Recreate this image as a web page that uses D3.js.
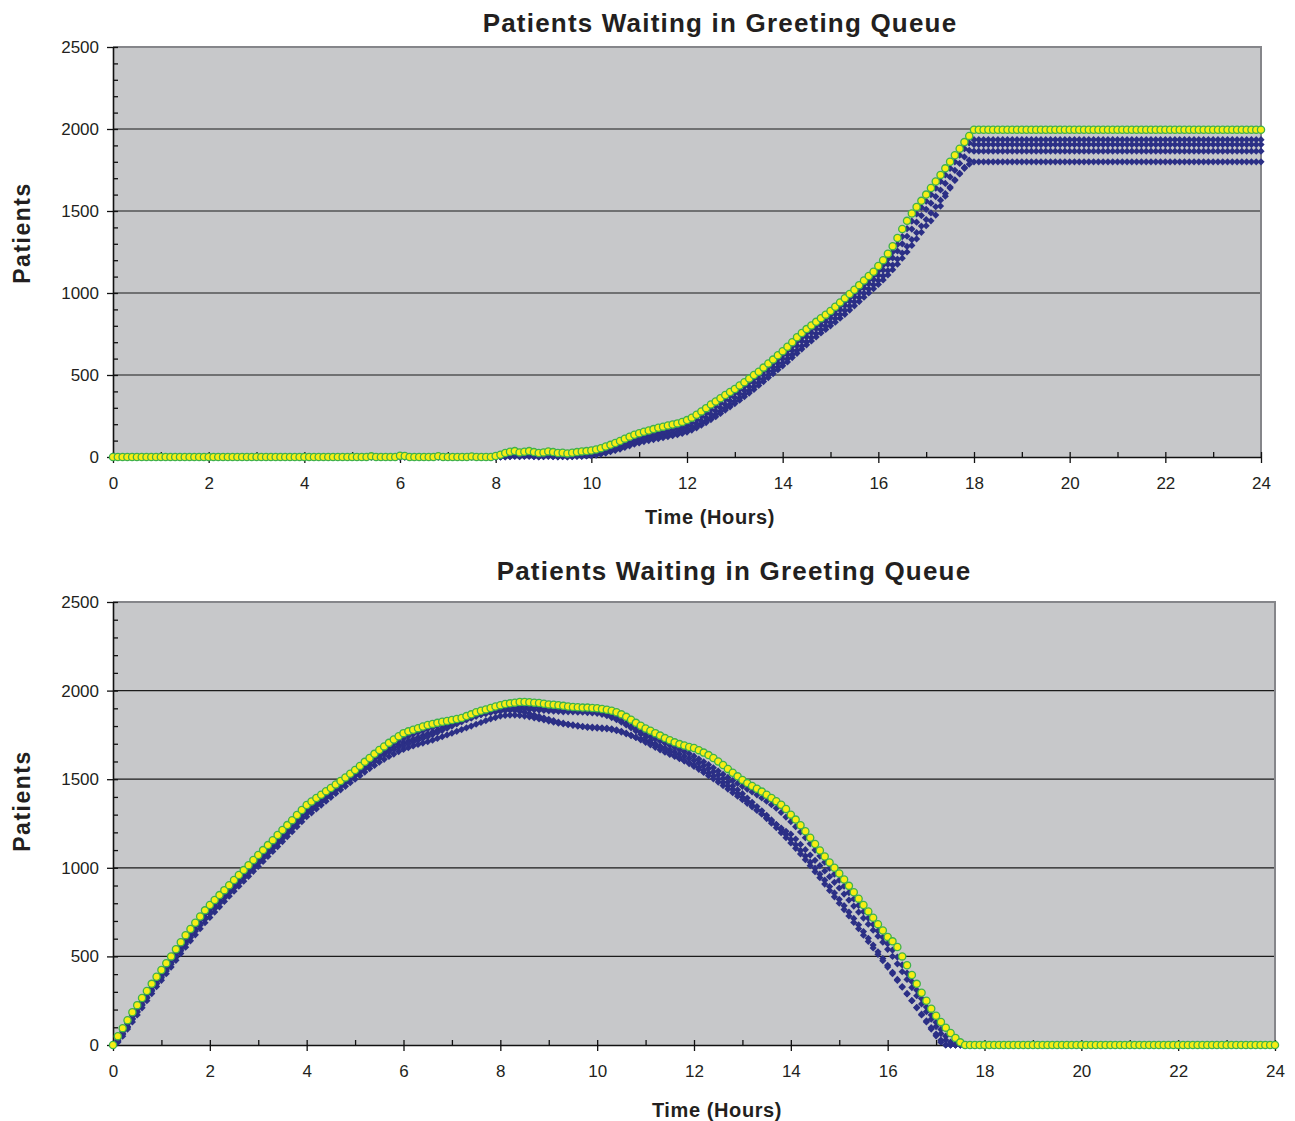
<!DOCTYPE html>
<html>
<head>
<meta charset="utf-8">
<script src="https://cdn.jsdelivr.net/npm/d3@7"></script>
<style>
  body { margin: 0; background: #fff; }
  svg { display: block; font-family: "Liberation Sans", Arial, sans-serif; }
</style>
</head>
<body>
<svg id="chart" width="1295" height="1121"></svg>
<script>
// sample spacing of every series, in hours (value i sits at i * stepHours)
const stepHours = 0.1;
const xTicks = [0, 2, 4, 6, 8, 10, 12, 14, 16, 18, 20, 22, 24];
const yTicks = [0, 500, 1000, 1500, 2000, 2500];
const chartTitle = "Patients Waiting in Greeting Queue";
const xTitle = "Time (Hours)";
const yTitle = "Patients";

// top chart
const topYellow = [
  0,0,0,0,0,0,0,0,0,0,
  0,0,0,0,0,0,0,0,0,0,
  0,0,0,0,0,0,0,0,0,0,
  0,0,0,0,0,0,0,0,0,0,
  0,0,0,0,0,0,0,0,0,0,
  0,0,0,0,4,0,0,0,0,0,
  8,6,0,0,0,0,0,0,5,0,
  0,0,0,0,0,3,0,0,0,0,
  6,14,24,32,36,28,32,36,30,24,
  28,34,30,24,26,22,26,30,34,36,
  40,46,54,64,74,85,98,112,124,136,
  145,154,162,170,178,185,192,198,205,214,
  225,240,258,278,298,320,338,358,378,396,
  415,436,456,478,500,520,545,570,594,620,
  645,672,700,730,756,780,802,824,846,868,
  890,916,942,968,994,1020,1048,1076,1104,1130,
  1165,1200,1240,1285,1335,1390,1440,1485,1525,1562,
  1600,1640,1680,1720,1760,1800,1840,1880,1920,1958,
  1995,1995,1995,1995,1995,1995,1995,1995,1995,1995,
  1995,1995,1995,1995,1995,1995,1995,1995,1995,1995,
  1995,1995,1995,1995,1995,1995,1995,1995,1995,1995,
  1995,1995,1995,1995,1995,1995,1995,1995,1995,1995,
  1995,1995,1995,1995,1995,1995,1995,1995,1995,1995,
  1995,1995,1995,1995,1995,1995,1995,1995,1995,1995,
  1995
];
const topBlueA = [
  0,0,0,0,0,0,0,0,0,0,
  0,0,0,0,0,0,0,0,0,0,
  0,0,0,0,0,0,0,0,0,0,
  0,0,0,0,0,0,0,0,0,0,
  0,0,0,0,0,0,0,0,0,0,
  0,0,0,0,0,0,0,0,0,0,
  0,0,0,0,0,0,0,0,0,0,
  0,0,0,0,0,0,0,0,0,0,
  0,4,8,12,14,10,12,14,10,8,
  10,12,10,8,8,6,8,10,12,14,
  16,22,30,40,50,60,72,84,96,106,
  116,124,132,140,146,152,158,164,172,182,
  195,210,228,248,268,290,310,330,352,372,
  392,412,434,456,478,500,524,548,572,598,
  622,648,676,704,730,756,780,802,824,846,
  868,894,920,946,972,998,1024,1052,1080,1106,
  1135,1170,1208,1250,1296,1344,1392,1438,1482,1522,
  1560,1600,1640,1680,1720,1760,1800,1840,1880,1915,
  1935,1935,1935,1935,1935,1935,1935,1935,1935,1935,
  1935,1935,1935,1935,1935,1935,1935,1935,1935,1935,
  1935,1935,1935,1935,1935,1935,1935,1935,1935,1935,
  1935,1935,1935,1935,1935,1935,1935,1935,1935,1935,
  1935,1935,1935,1935,1935,1935,1935,1935,1935,1935,
  1935,1935,1935,1935,1935,1935,1935,1935,1935,1935,
  1935
];
const topBlueB = [
  0,0,0,0,0,0,0,0,0,0,
  0,0,0,0,0,0,0,0,0,0,
  0,0,0,0,0,0,0,0,0,0,
  0,0,0,0,0,0,0,0,0,0,
  0,0,0,0,0,0,0,0,0,0,
  0,0,0,0,0,0,0,0,0,0,
  0,0,0,0,0,0,0,0,0,0,
  0,0,0,0,0,0,0,0,0,0,
  0,0,4,6,8,6,8,10,6,4,
  6,8,6,4,6,4,6,8,8,10,
  12,16,22,30,40,50,60,72,84,96,
  104,110,118,124,130,136,140,146,152,162,
  172,186,202,220,240,260,280,300,320,342,
  362,384,406,428,452,476,500,524,548,572,
  598,624,650,678,706,732,758,782,804,826,
  848,872,898,924,950,976,1002,1030,1056,1082,
  1108,1140,1176,1214,1256,1300,1346,1390,1432,1472,
  1510,1548,1588,1628,1668,1708,1748,1790,1830,1870,
  1905,1905,1905,1905,1905,1905,1905,1905,1905,1905,
  1905,1905,1905,1905,1905,1905,1905,1905,1905,1905,
  1905,1905,1905,1905,1905,1905,1905,1905,1905,1905,
  1905,1905,1905,1905,1905,1905,1905,1905,1905,1905,
  1905,1905,1905,1905,1905,1905,1905,1905,1905,1905,
  1905,1905,1905,1905,1905,1905,1905,1905,1905,1905,
  1905
];
const topBlueC = [
  0,0,0,0,0,0,0,0,0,0,
  0,0,0,0,0,0,0,0,0,0,
  0,0,0,0,0,0,0,0,0,0,
  0,0,0,0,0,0,0,0,0,0,
  0,0,0,0,0,0,0,0,0,0,
  0,0,0,0,0,0,0,0,0,0,
  0,0,0,0,0,0,0,0,0,0,
  0,0,0,0,0,0,0,0,0,0,
  0,0,2,4,6,4,6,8,4,2,
  4,6,4,2,4,2,4,6,6,8,
  10,14,20,28,36,44,54,64,74,84,
  92,100,106,112,118,124,130,136,142,150,
  160,172,186,202,220,238,258,278,298,318,
  338,360,382,404,428,452,476,500,524,548,
  572,598,624,650,676,702,728,752,776,798,
  820,844,868,894,920,946,972,998,1024,1050,
  1076,1104,1136,1170,1206,1244,1284,1326,1368,1408,
  1448,1488,1526,1566,1606,1646,1686,1726,1766,1810,
  1865,1865,1865,1865,1865,1865,1865,1865,1865,1865,
  1865,1865,1865,1865,1865,1865,1865,1865,1865,1865,
  1865,1865,1865,1865,1865,1865,1865,1865,1865,1865,
  1865,1865,1865,1865,1865,1865,1865,1865,1865,1865,
  1865,1865,1865,1865,1865,1865,1865,1865,1865,1865,
  1865,1865,1865,1865,1865,1865,1865,1865,1865,1865,
  1865
];
const topBlueD = [
  0,0,0,0,0,0,0,0,0,0,
  0,0,0,0,0,0,0,0,0,0,
  0,0,0,0,0,0,0,0,0,0,
  0,0,0,0,0,0,0,0,0,0,
  0,0,0,0,0,0,0,0,0,0,
  0,0,0,0,0,0,0,0,0,0,
  0,0,0,0,0,0,0,0,0,0,
  0,0,0,0,0,0,0,0,0,0,
  0,0,0,2,4,2,4,4,2,0,
  2,4,2,0,2,0,2,4,4,6,
  8,12,18,24,32,40,48,58,68,78,
  86,94,100,106,112,118,124,130,136,144,
  152,164,178,194,210,228,246,266,286,306,
  326,346,368,390,412,436,460,484,508,532,
  556,580,606,632,658,684,708,732,756,778,
  800,822,846,870,896,922,948,974,1000,1026,
  1052,1080,1110,1142,1176,1212,1250,1290,1330,1370,
  1410,1440,1475,1530,1590,1640,1690,1730,1760,1785,
  1800,1800,1800,1800,1800,1800,1800,1800,1800,1800,
  1800,1800,1800,1800,1800,1800,1800,1800,1800,1800,
  1800,1800,1800,1800,1800,1800,1800,1800,1800,1800,
  1800,1800,1800,1800,1800,1800,1800,1800,1800,1800,
  1800,1800,1800,1800,1800,1800,1800,1800,1800,1800,
  1800,1800,1800,1800,1800,1800,1800,1800,1800,1800,
  1800
];

// bottom chart
const bottomYellow = [
  0,50,95,140,185,225,265,305,345,385,
  423,462,500,540,580,620,655,690,725,760,
  790,818,846,874,902,931,959,987,1015,1044,
  1072,1100,1128,1156,1185,1213,1241,1269,1298,1326,
  1354,1374,1394,1412,1432,1450,1470,1490,1510,1531,
  1552,1575,1598,1620,1643,1665,1685,1705,1724,1742,
  1760,1770,1779,1788,1797,1806,1812,1818,1824,1829,
  1834,1840,1846,1856,1866,1878,1886,1894,1902,1910,
  1918,1924,1928,1932,1936,1936,1934,1932,1930,1926,
  1922,1920,1918,1914,1910,1908,1906,1904,1904,1902,
  1900,1896,1892,1886,1878,1866,1852,1836,1818,1802,
  1786,1774,1760,1746,1732,1720,1708,1698,1690,1682,
  1676,1664,1650,1636,1620,1600,1580,1558,1536,1516,
  1496,1478,1462,1446,1430,1412,1394,1376,1356,1332,
  1300,1272,1240,1206,1170,1134,1098,1064,1030,1000,
  968,934,898,862,826,790,754,718,682,646,
  610,585,553,500,450,395,345,295,250,205,
  165,130,98,68,40,15,0,0,0,0,
  0,0,0,0,0,0,0,0,0,0,
  0,0,0,0,0,0,0,0,0,0,
  0,0,0,0,0,0,0,0,0,0,
  0,0,0,0,0,0,0,0,0,0,
  0,0,0,0,0,0,0,0,0,0,
  0,0,0,0,0,0,0,0,0,0,
  0
];
const bottomBlueA = [
  0,30,75,120,165,205,245,285,325,365,
  400,440,480,520,560,598,634,670,705,740,
  770,798,826,854,882,910,938,966,994,1022,
  1050,1078,1106,1134,1162,1190,1218,1246,1274,1302,
  1330,1350,1370,1390,1410,1430,1450,1470,1490,1510,
  1530,1552,1575,1598,1620,1640,1660,1680,1700,1716,
  1730,1742,1754,1764,1774,1784,1792,1800,1808,1814,
  1820,1828,1836,1844,1852,1860,1868,1876,1884,1890,
  1896,1900,1904,1908,1910,1910,1908,1906,1904,1900,
  1896,1894,1892,1890,1888,1886,1884,1882,1880,1878,
  1880,1874,1866,1856,1844,1830,1814,1798,1782,1766,
  1752,1740,1728,1716,1704,1692,1680,1668,1656,1644,
  1630,1614,1598,1582,1564,1546,1528,1510,1492,1476,
  1460,1444,1428,1412,1394,1376,1356,1336,1312,1286,
  1260,1232,1202,1170,1136,1100,1066,1032,998,964,
  930,896,860,824,788,752,716,680,644,608,
  572,536,496,452,406,358,310,262,214,170,
  128,88,50,16,0,0,0,0,0,0,
  0,0,0,0,0,0,0,0,0,0,
  0,0,0,0,0,0,0,0,0,0,
  0,0,0,0,0,0,0,0,0,0,
  0,0,0,0,0,0,0,0,0,0,
  0,0,0,0,0,0,0,0,0,0,
  0,0,0,0,0,0,0,0,0,0,
  0
];
const bottomBlueB = [
  0,20,60,100,145,185,225,265,305,345,
  380,418,456,494,532,570,606,642,676,710,
  740,770,800,830,858,886,914,942,970,998,
  1026,1054,1082,1110,1138,1166,1194,1222,1250,1278,
  1306,1328,1350,1372,1394,1416,1438,1460,1480,1500,
  1520,1540,1560,1580,1600,1620,1638,1654,1668,1680,
  1690,1700,1710,1720,1730,1740,1752,1764,1776,1788,
  1800,1812,1824,1836,1846,1856,1864,1870,1876,1880,
  1884,1888,1892,1894,1896,1896,1894,1892,1890,1888,
  1886,1884,1882,1880,1880,1880,1878,1878,1876,1874,
  1872,1866,1858,1848,1836,1822,1806,1790,1772,1754,
  1736,1718,1700,1684,1668,1652,1636,1620,1604,1588,
  1572,1556,1538,1520,1502,1484,1464,1444,1424,1404,
  1384,1364,1344,1324,1304,1284,1264,1244,1224,1206,
  1190,1162,1132,1102,1072,1042,1012,982,950,918,
  886,852,818,784,750,716,682,648,614,580,
  540,500,458,414,370,324,278,232,188,146,
  104,64,28,0,0,0,0,0,0,0,
  0,0,0,0,0,0,0,0,0,0,
  0,0,0,0,0,0,0,0,0,0,
  0,0,0,0,0,0,0,0,0,0,
  0,0,0,0,0,0,0,0,0,0,
  0,0,0,0,0,0,0,0,0,0,
  0,0,0,0,0,0,0,0,0,0,
  0
];
const bottomBlueC = [
  0,15,50,90,130,170,210,250,290,330,
  365,402,440,478,516,552,588,622,656,690,
  720,750,780,810,840,868,896,924,952,980,
  1008,1036,1064,1092,1120,1148,1176,1204,1232,1260,
  1288,1310,1332,1354,1376,1398,1420,1440,1460,1480,
  1500,1520,1540,1560,1578,1596,1612,1628,1642,1656,
  1668,1678,1688,1696,1704,1712,1720,1730,1740,1750,
  1760,1770,1780,1790,1800,1810,1820,1830,1840,1848,
  1856,1860,1862,1862,1860,1856,1852,1846,1840,1834,
  1828,1822,1816,1812,1808,1804,1800,1796,1792,1790,
  1788,1786,1784,1780,1774,1766,1756,1746,1736,1726,
  1716,1706,1696,1686,1676,1666,1654,1642,1630,1618,
  1606,1592,1576,1560,1542,1524,1504,1484,1462,1440,
  1418,1394,1370,1346,1322,1296,1270,1244,1216,1188,
  1160,1130,1098,1066,1032,998,964,930,894,858,
  822,786,750,714,678,640,602,564,526,488,
  450,410,370,330,290,250,210,170,130,90,
  52,16,0,0,0,0,0,0,0,0,
  0,0,0,0,0,0,0,0,0,0,
  0,0,0,0,0,0,0,0,0,0,
  0,0,0,0,0,0,0,0,0,0,
  0,0,0,0,0,0,0,0,0,0,
  0,0,0,0,0,0,0,0,0,0,
  0,0,0,0,0,0,0,0,0,0,
  0
];
const bottomBlueD = [
  0,25,65,105,150,190,230,270,310,350,
  390,428,466,504,542,580,616,652,688,722,
  755,785,815,843,871,899,927,955,983,1011,
  1039,1067,1095,1123,1151,1179,1207,1235,1263,1291,
  1318,1340,1362,1384,1406,1426,1446,1466,1486,1506,
  1526,1546,1566,1586,1606,1626,1646,1664,1680,1694,
  1706,1716,1726,1736,1746,1756,1766,1776,1786,1796,
  1806,1816,1826,1836,1846,1856,1866,1874,1880,1884,
  1888,1890,1890,1888,1884,1878,1870,1862,1854,1846,
  1838,1830,1822,1816,1810,1806,1802,1798,1796,1794,
  1792,1790,1788,1784,1778,1770,1760,1748,1736,1722,
  1708,1694,1680,1666,1652,1640,1628,1616,1604,1592,
  1580,1566,1550,1534,1518,1500,1482,1462,1442,1420,
  1398,1376,1352,1328,1304,1278,1252,1226,1198,1170,
  1140,1110,1078,1046,1012,978,944,908,872,836,
  800,764,728,692,656,620,584,548,512,476,
  440,402,364,326,288,250,212,174,136,98,
  62,28,0,0,0,0,0,0,0,0,
  0,0,0,0,0,0,0,0,0,0,
  0,0,0,0,0,0,0,0,0,0,
  0,0,0,0,0,0,0,0,0,0,
  0,0,0,0,0,0,0,0,0,0,
  0,0,0,0,0,0,0,0,0,0,
  0,0,0,0,0,0,0,0,0,0,
  0
];

const svg = d3.select("#chart");
const navy = "#2b2f86";
const diamond = d3.symbol(d3.symbolSquare, 26)();

function toPoints(values) {
  return values.map((v, i) => [i * stepHours, v]);
}

function drawPanel(p) {
  const x = d3.scaleLinear().domain([0, 24]).range([p.left, p.right]);
  const y = d3.scaleLinear().domain([0, 2500]).range([p.bottom, p.top]);
  const g = svg.append("g");

  g.append("rect")
    .attr("x", p.left).attr("y", p.top)
    .attr("width", p.right - p.left).attr("height", p.bottom - p.top)
    .attr("fill", "#c7c8ca");

  g.append("g").selectAll("line")
    .data(yTicks.filter(d => d > 0 && d < 2500))
    .join("line")
    .attr("x1", p.left).attr("x2", p.right)
    .attr("y1", d => y(d)).attr("y2", d => y(d))
    .attr("stroke", "#1b1b1b").attr("stroke-width", 1.2);

  g.append("path")
    .attr("d", `M${p.left},${p.top}H${p.right}V${p.bottom}`)
    .attr("fill", "none").attr("stroke", "#85868a").attr("stroke-width", 2);

  // minor ticks pointing into the plot
  g.append("g")
    .attr("transform", `translate(${p.left},0)`)
    .call(d3.axisRight(y).tickValues(d3.range(0, 2501, 100)).tickSize(5).tickFormat(""))
    .call(a => a.select(".domain").remove());
  g.append("g")
    .attr("transform", `translate(0,${p.bottom})`)
    .call(d3.axisTop(x).tickValues(d3.range(0, 25, 1)).tickSize(5).tickFormat(""))
    .call(a => a.select(".domain").remove());

  const yAxis = g.append("g")
    .attr("transform", `translate(${p.left},0)`)
    .call(d3.axisLeft(y).tickValues(yTicks).tickSize(6).tickSizeOuter(0)
      .tickPadding(8).tickFormat(d3.format("d")));
  const xAxis = g.append("g")
    .attr("transform", `translate(0,${p.bottom})`)
    .call(d3.axisBottom(x).tickValues(xTicks).tickSize(6).tickSizeOuter(0).tickPadding(14));

  [yAxis, xAxis].forEach(a => {
    a.select(".domain").attr("stroke", "#111").attr("stroke-width", 1.6);
    a.selectAll("text").attr("font-size", 17).attr("fill", "#231f20")
      .attr("font-family", "Liberation Sans, Arial, sans-serif");
  });
  g.selectAll(".tick line").attr("stroke", "#111").attr("stroke-width", 1.3);

  p.blues.forEach(values => {
    g.append("g").selectAll("path")
      .data(toPoints(values))
      .join("path")
      .attr("d", diamond)
      .attr("transform", d => `translate(${x(d[0])},${y(d[1])}) rotate(45)`)
      .attr("fill", navy);
  });

  g.append("g").selectAll("circle")
    .data(toPoints(p.yellow))
    .join("circle")
    .attr("cx", d => x(d[0])).attr("cy", d => y(d[1]))
    .attr("r", 3.6)
    .attr("fill", "#f7ee14")
    .attr("stroke", "#3fb24a").attr("stroke-width", 1.3);

  svg.append("text")
    .attr("x", p.titleX).attr("y", p.titleY)
    .attr("text-anchor", "middle")
    .attr("font-size", 26).attr("font-weight", "bold").attr("fill", "#231f20")
    .attr("letter-spacing", 1.2)
    .text(chartTitle);

  svg.append("text")
    .attr("x", p.xLabelX).attr("y", p.xLabelY)
    .attr("text-anchor", "middle")
    .attr("font-size", 20).attr("font-weight", "bold").attr("fill", "#231f20")
    .attr("letter-spacing", 0.6)
    .text(xTitle);

  svg.append("text")
    .attr("transform", `translate(30,${p.yLabelY}) rotate(-90)`)
    .attr("text-anchor", "middle")
    .attr("font-size", 23).attr("font-weight", "bold").attr("fill", "#231f20")
    .attr("letter-spacing", 1.5)
    .text(yTitle);
}

drawPanel({
  left: 113, right: 1261, top: 47, bottom: 457,
  titleX: 720, titleY: 32, xLabelX: 710, xLabelY: 524, yLabelY: 233,
  yellow: topYellow,
  blues: [topBlueD, topBlueC, topBlueB, topBlueA]
});

drawPanel({
  left: 113, right: 1275, top: 602, bottom: 1045,
  titleX: 734, titleY: 580, xLabelX: 717, xLabelY: 1117, yLabelY: 801,
  yellow: bottomYellow,
  blues: [bottomBlueC, bottomBlueD, bottomBlueB, bottomBlueA]
});
</script>
</body>
</html>
